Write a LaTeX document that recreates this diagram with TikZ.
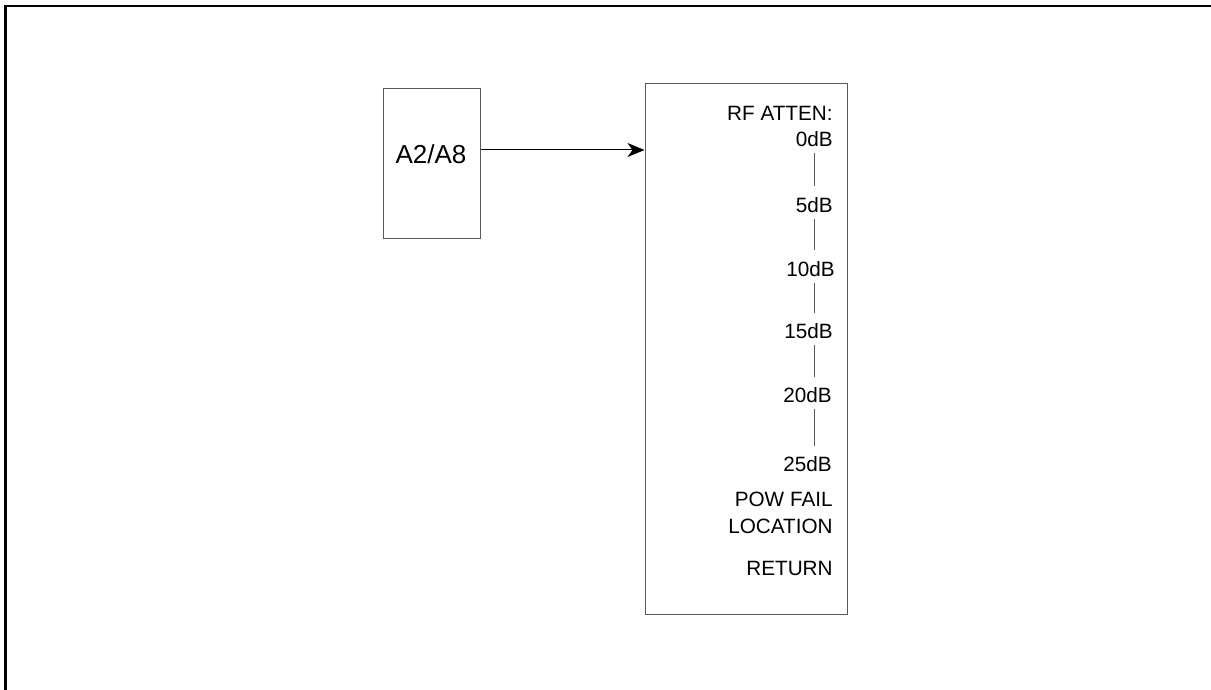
\documentclass[tikz,border=0pt]{standalone}
\usepackage{fontspec}
\setmainfont{Liberation Sans}
\usetikzlibrary{positioning, arrows.meta, calc}

\begin{document}
\begin{tikzpicture}[
        x=0.5pt, y=-0.5pt,
        frame/.style={line width=1.2pt, line cap=rect},
        unit/.style={draw=black!65, line width=0.5pt, rectangle, minimum width=48.5pt, minimum height=74.5pt},
        menu/.style={draw=black!65, line width=0.5pt, rectangle, minimum width=101pt, minimum height=265pt},
        softkey/.style={anchor=east, inner sep=0pt, align=right, font=\fontsize{10.35}{13.5}\selectfont},
        tick/.style={draw=black!65, line width=0.4pt, shorten <=2.75pt, shorten >=5.25pt},
        link/.style={line width=0.5pt, -{Stealth[length=8.5pt, width=7pt, inset=2.5pt]}}
    ]
        \useasboundingbox (0,0) rectangle (1211,690);
        \draw[frame] (5.5,690) |- (1211,6);

        % Nodes
        \node[unit] (a2) at (431.5,163.5) {};
        \node[font=\fontsize{13}{15}\selectfont] (a2name) at (431,154) {A2/A8};
        \node[menu] (atten) at (746,349) {};

        \node[softkey] (rfatten) at (833,113) {RF ATTEN:};
        \node[softkey] (db0) at (833,139) {0dB};
        \node[softkey] (db5) at (833,205) {5dB};
        \node[softkey] (db10) at (835,269) {10dB};
        \node[softkey] (db15) at (833,331) {15dB};
        \node[softkey] (db20) at (832,395) {20dB};
        \node[softkey] (db25) at (832,464) {25dB};
        \node[softkey] (powfail) at (833,512.5) {POW FAIL\\LOCATION};
        \node[softkey] (return) at (833,568) {RETURN};

        % Edges
        \draw[link] ([yshift=6.75pt]a2.east) -- ([yshift=6.75pt]a2.east -| atten.west);
        \draw[tick] (db0.south) -- (db5.north);
        \draw[tick] (db5.south) -- (db10.north -| db5);
        \draw[tick] (db10.south -| db5) -- (db15.north -| db5);
        \draw[tick] (db15.south -| db5) -- (db20.north -| db5);
        \draw[tick] (db20.south -| db5) -- (db25.north -| db5);
    \end{tikzpicture}
\end{document}
